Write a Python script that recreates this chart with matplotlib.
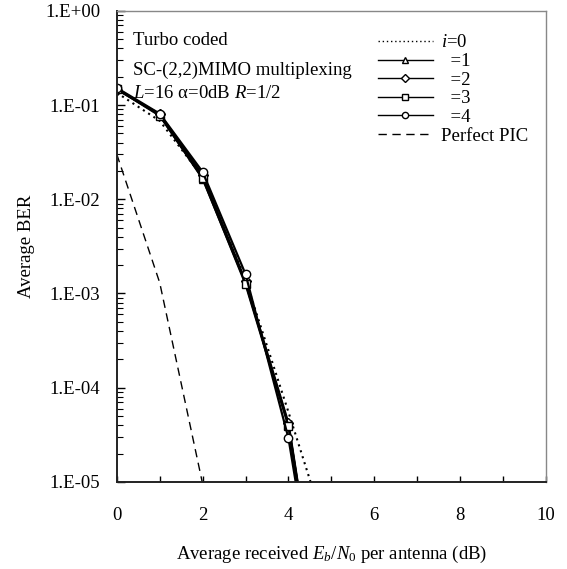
# BER vs Eb/N0 for turbo-coded SC-(2,2) MIMO multiplexing
import math
import matplotlib
matplotlib.use("Agg")
import matplotlib.pyplot as plt
from matplotlib.ticker import FixedLocator, FuncFormatter, NullFormatter, LogLocator

plt.rcParams['font.family'] = ['Liberation Serif', 'DejaVu Serif']
plt.rcParams['mathtext.fontset'] = 'custom'
plt.rcParams['mathtext.rm'] = 'Liberation Serif'
plt.rcParams['mathtext.it'] = 'Liberation Serif:italic'

# data
ebn0 = [0, 1, 2, 3, 4, 5]
ber_i0 = [0.135, 0.068, 0.0172, 1.40e-3, 5.5e-5, 2.0e-6]
ber_i1 = [0.150, 0.078, 0.0165, 1.30e-3, 4.0e-5, 5.0e-8]
ber_i2 = [0.146, 0.080, 0.0180, 1.35e-3, 4.2e-5, 5.0e-8]
ber_i3 = [0.148, 0.077, 0.0168, 1.25e-3, 3.9e-5, 5.0e-8]
ber_i4 = [0.152, 0.081, 0.0195, 1.60e-3, 2.9e-5, 5.0e-8]
ebn0_pic = [0, 1, 2, 3]
ber_pic = [0.030, 1.30e-3, 9.5e-6, 5.0e-8]

labels = [r"$i$=0", "  =1", "  =2", "  =3", "  =4", "Perfect PIC"]
ytick_vals = [1, 1e-1, 1e-2, 1e-3, 1e-4, 1e-5]

fs = 13.5
fig = plt.figure(figsize=(5.67, 5.69), dpi=100)
ax = fig.add_axes([0.206, 0.153, 0.757, 0.828])

ax.plot(ebn0, ber_i0, color='black', lw=1.5, ls=(0, (1, 2)), label=labels[0])
markers = ['^', 'D', 's', 'o']
msizes = [6, 5, 5.5, 6]
for ys, m, s, lab in zip([ber_i1, ber_i2, ber_i3, ber_i4], markers, msizes, labels[1:5]):
    ax.plot(ebn0, ys, color='black', lw=1.6, marker=m, ms=s, mfc='white',
            mec='black', mew=1.0, label=lab)
ax.plot(ebn0_pic, ber_pic, color='black', lw=1.0, ls=(0, (6, 4)), label=labels[5])

ax.set_yscale('log')
ax.set_xlim(0, 10)
ax.set_ylim(1e-5, 1)

ax.xaxis.set_major_locator(FixedLocator([0, 2, 4, 6, 8, 10]))
ax.xaxis.set_minor_locator(FixedLocator([1, 3, 5, 7, 9]))
ax.yaxis.set_major_locator(FixedLocator(ytick_vals))
ax.yaxis.set_minor_locator(LogLocator(base=10, subs=range(2, 10)))
ax.yaxis.set_major_formatter(FuncFormatter(lambda v, p: "1.E%+03d" % round(math.log10(v))))
ax.yaxis.set_minor_formatter(NullFormatter())

ax.tick_params(axis='x', which='both', direction='in', length=4, width=1, pad=18, labelsize=fs)
ax.tick_params(axis='y', which='major', direction='in', length=6, width=1, pad=12, labelsize=fs)
ax.tick_params(axis='y', which='minor', direction='in', length=4, width=0.8)
ax.tick_params(top=False, right=False, which='both')

for s in ['left', 'bottom']:
    ax.spines[s].set_color('#222222')
    ax.spines[s].set_linewidth(1.4)
for s in ['top', 'right']:
    ax.spines[s].set_color('#888888')
    ax.spines[s].set_linewidth(1.0)

ax.set_xlabel(r"Average received $E_b/N_0$ per antenna (dB)", fontsize=fs, labelpad=14)
ax.set_ylabel("Average BER", fontsize=fs)
ax.yaxis.set_label_coords(-0.19, 0.5)

ax.text(0.038, 0.927, "Turbo coded", transform=ax.transAxes, fontsize=fs, va='baseline')
ax.text(0.038, 0.864, "SC-(2,2)MIMO multiplexing", transform=ax.transAxes, fontsize=fs, va='baseline')
ax.text(0.038, 0.814, r"$L$=16 α=0dB $R$=1/2", transform=ax.transAxes, fontsize=fs, va='baseline')

leg = ax.legend(loc='upper left', bbox_to_anchor=(0.609, 0.95), frameon=False, fontsize=fs,
                borderpad=0, borderaxespad=0, handlelength=2.9, handletextpad=0.43,
                labelspacing=0.08, markerscale=0.75)
for h in leg.legend_handles:
    h.set_linewidth(1.0)

fig.savefig("out.png", dpi=100)
